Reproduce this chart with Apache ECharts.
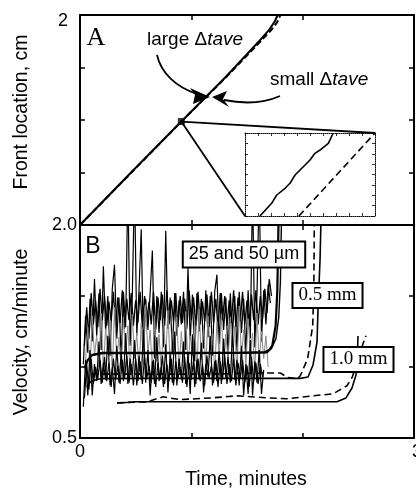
<!DOCTYPE html>
<html><head><meta charset="utf-8">
<script src="https://cdn.jsdelivr.net/npm/echarts@6/dist/echarts.min.js"></script>
<style>html,body{margin:0;padding:0;background:#fff}#c{width:416px;height:488px}</style>
</head><body><div id="c"></div>
<script>
// ---------- Panel A: front location (cm) vs time (min) ----------
const frontSolid  = [[0,0],[0.45,0.49],[0.91,0.985],[1.3,1.40],[1.6,1.74],[1.70,1.86],[1.75,1.94],[1.775,2.0]];
const frontDashed = [[0,0],[0.91,0.985],[1.3,1.395],[1.6,1.725],[1.72,1.86],[1.77,1.93],[1.80,2.0]];
const zoomPoint = [[0.91,0.985]];
const zoomConnector = [[1.482,0.086],[0.91,0.985],[2.65,0.876]];
// inset (normalised 0..1 coordinates)
const insetSolid = [[0.115,0],[0.205,0.153],[0.244,0.253],[0.308,0.334],[0.346,0.394],[0.385,0.494],[0.462,0.614],[0.5,0.675],[0.538,0.755],[0.577,0.795],[0.641,0.876],[0.679,1.0]];
const insetDashed = [[0.415,0],[1.0,1.0]];

// ---------- Panel B: velocity (cm/min) vs time (min) ----------
const NOISE_DT = 0.02;   // sampling interval of the measured traces
const upperT0 = 0.03, upper2T0 = 0.04, greyT0 = 0.05, lowerT0 = 0.03, lower2T0 = 0.04;
const noiseUpper = [
 1.02,1.36,1.10,1.48,1.18,1.62,1.22,1.52,1.12,1.71,
 1.25,1.50,1.08,1.55,1.72,1.20,1.49,1.05,1.53,1.28,
 2.30,1.15,1.51,2.30,1.22,1.54,1.97,1.10,1.48,1.26,
 1.52,1.82,1.06,1.50,1.24,1.53,1.14,1.96,1.27,1.49,
 1.09,1.52,1.22,1.47,1.30,1.53,1.12,1.70,1.19,1.51,
 1.04,1.52,1.25,1.48,1.13,1.54,1.21,1.50,1.08,1.53,
 1.65,1.16,1.52,1.26,1.49,1.07,1.52,1.23,1.50,1.11,
 1.53,1.24,1.48,1.09,1.54,1.20,2.30,1.14,1.52,2.30,
 1.18,1.54,1.30,1.58,1.45];
const noiseUpper2 = [
 1.15,1.42,1.20,1.52,1.30,1.47,1.28,1.55,1.33,1.50,
 1.29,1.46,1.32,1.53,1.28,1.49,1.31,1.54,1.27,1.48,
 1.33,1.52,1.29,1.47,1.31,1.53,1.28,1.50,1.32,1.46,
 1.30,1.53,1.27,1.49,1.33,1.51,1.29,1.54,1.30,1.47,
 1.32,1.52,1.28,1.50,1.31,1.48,1.27,1.54,1.33,1.49,
 1.29,1.53,1.30,1.46,1.32,1.51,1.28,1.53,1.31,1.48,
 1.27,1.52,1.33,1.50,1.29,1.47,1.31,1.54,1.28,1.49,
 1.32,1.53,1.30,1.47,1.29,1.51,1.33,1.54,1.30,1.50,
 1.34,1.55,1.38,1.62,1.50];
const noiseGrey = [
 1.05,1.28,0.97,1.36,1.08,1.22,1.00,1.38,0.98,1.27,
 1.12,1.33,0.96,1.42,1.05,1.21,0.99,1.35,1.10,1.29,
 0.95,1.37,1.06,1.24,0.97,1.31,1.02,1.44,1.09,1.26,
 0.98,1.36,1.04,1.23,0.96,1.34,1.07,1.40,1.00,1.27,
 1.11,1.35,0.97,1.25,1.03,1.39,0.99,1.22,1.08,1.33,
 0.96,1.41,1.05,1.28,1.00,1.36,1.09,1.24,0.97,1.32,
 1.06,1.37,0.98,1.23,1.04,1.35,1.01,1.29,0.95,1.43,
 1.07,1.26,1.00,1.34,1.10,1.24,0.97,1.38,1.03,1.25,
 1.06,1.22,1.00];
const noiseLower = [
 0.72,1.05,0.80,1.12,0.80,1.02,0.90,1.18,0.88,1.03,
 0.91,1.22,0.87,1.00,0.81,1.15,0.89,1.10,0.90,1.24,
 0.88,1.06,0.93,1.19,0.87,1.08,0.91,1.26,0.89,1.12,
 0.80,1.04,0.88,1.21,0.90,1.00,0.86,1.16,0.82,1.09,
 0.89,1.25,0.87,1.06,0.92,1.18,0.88,1.10,0.81,1.23,
 0.86,1.05,0.91,1.17,0.82,1.02,0.93,1.22,0.87,1.04,
 0.90,1.11,0.88,1.20,0.92,1.07,0.89,1.25,0.91,1.05,
 0.87,1.15,0.80,1.02,0.81,1.19,0.80,1.04,0.89,1.12,
 0.81,0.98];
const noiseLower2 = [
 0.78,1.02,0.84,1.06,0.88,1.00,0.92,1.05,0.89,1.07,
 0.90,1.03,0.86,1.06,0.91,1.01,0.88,1.05,0.92,1.08,
 0.89,1.02,0.87,1.06,0.90,1.04,0.88,1.07,0.92,1.01,
 0.89,1.05,0.86,1.03,0.91,1.08,0.88,1.02,0.90,1.06,
 0.87,1.04,0.92,1.00,0.89,1.07,0.86,1.03,0.91,1.05,
 0.88,1.06,0.90,1.02,0.87,1.08,0.92,1.01,0.89,1.05,
 0.86,1.04,0.91,1.07,0.88,1.02,0.90,1.06,0.87,1.03,
 0.92,1.05,0.89,1.01,0.86,1.07,0.90,1.03,0.88,1.02,
 0.93];
const fit25Solid  = [[0.04,0.99],[0.07,1.05],[0.11,1.085],[0.2,1.10],[0.6,1.10],[1.0,1.10],[1.4,1.10],[1.66,1.105],[1.70,1.12],[1.727,1.15],[1.757,1.29],[1.772,1.53],[1.784,2.05]];
const fit50Solid  = [[0.1,1.08],[0.2,1.095],[1.0,1.095],[1.68,1.10],[1.72,1.13],[1.76,1.2],[1.785,1.35],[1.80,1.6],[1.81,2.05]];
const fit05Solid  = [[0.06,0.86],[0.1,0.90],[0.18,0.918],[0.6,0.92],[1.2,0.92],[1.8,0.92],[1.98,0.92],[2.048,0.93],[2.093,1.014],[2.129,1.176],[2.138,1.415],[2.156,1.754],[2.165,2.05]];
const fit05Dashed = [[0.1,0.95],[0.6,0.95],[1.2,0.95],[1.68,0.958],[1.80,0.958],[1.865,0.925],[1.955,0.918],[1.98,0.94],[2.045,1.06],[2.09,1.29],[2.10,1.53],[2.105,2.05]];
const fit10Solid  = [[0.333,0.745],[0.5,0.755],[1.0,0.755],[1.5,0.755],[2.0,0.755],[2.308,0.755],[2.389,0.782],[2.443,0.852],[2.479,0.944],[2.493,1.12],[2.497,1.218]];
const fit10Dashed = [[0.332,0.748],[0.602,0.755],[0.746,0.79],[0.898,0.77],[1.195,0.783],[1.41,0.797],[1.68,0.783],[1.86,0.776],[2.093,0.797],[2.272,0.811],[2.398,0.868],[2.443,0.925],[2.50,1.05],[2.54,1.16],[2.569,1.22]];

// tick labels
const yTickA = {2:'2'};
const yTickB = {0.5:'0.5', 2:'2.0'};
const xTickB = {0:'0'};
const xTickBEnd = '3';

const SANS = 'Liberation Sans, Arial, Helvetica, sans-serif';
const SERIF = 'Liberation Serif, Times New Roman, serif';
const toPairs = (vals, t0) => vals.map((v,i)=>[t0 + i*NOISE_DT, v]);

const chart = echarts.init(document.getElementById('c'), null, {renderer:'canvas'});

function ax(grid, position, min, max, interval, extra){
  const a = {
    type:'value', gridIndex:grid, position, min, max, interval,
    axisLine:{show:true, onZero:false, lineStyle:{color:'#000', width:2}},
    axisTick:{show:true, inside:true, length:5, lineStyle:{color:'#000', width:1.5}},
    axisLabel:{show:false},
    splitLine:{show:false}
  };
  return Object.assign(a, extra||{});
}
const insetAxisLine = {show:true, onZero:false, lineStyle:{color:'#000', width:1, type:'dotted'}};
const insetTick = {show:true, inside:true, length:3, lineStyle:{color:'#000', width:0.8}};

const line = (data, xi, yi, w, dash, color, z) => ({
  type:'line', data, xAxisIndex:xi, yAxisIndex:yi, showSymbol:false, symbol:'none',
  lineStyle:{color:color||'#000', width:w, type:dash||'solid'}, z:z||2, silent:true, animation:false
});

chart.setOption({
  animation:false,
  grid:[
    {left:80, top:15, width:334, height:210, outerBoundsMode:'none', containLabel:false},
    {left:80, top:225, width:334, height:213, outerBoundsMode:'none', containLabel:false},
    {left:245, top:133, width:130, height:83, outerBoundsMode:'none', containLabel:false}
  ],
  xAxis:[
    ax(0,'bottom',0,3,1),
    ax(0,'top',0,3,1),
    ax(1,'bottom',0,3,1,{axisLabel:{show:true, margin:5, fontSize:18, fontFamily:SANS, color:'#000',
      formatter:v=>xTickB[v]||''}}),
    ax(1,'top',0,3,1),
    {type:'value', gridIndex:2, position:'bottom', min:0, max:1, interval:0.1, axisLine:insetAxisLine, axisTick:insetTick, axisLabel:{show:false}, splitLine:{show:false}},
    {type:'value', gridIndex:2, position:'top', min:0, max:1, interval:0.1, axisLine:insetAxisLine, axisTick:insetTick, axisLabel:{show:false}, splitLine:{show:false}}
  ],
  yAxis:[
    ax(0,'left',0,2,0.5,{axisLabel:{show:true, margin:12, fontSize:18, fontFamily:SANS, color:'#000', verticalAlign:'top', lineHeight:12,
      formatter:v=>yTickA[v]||''}}),
    ax(0,'right',0,2,0.5),
    ax(1,'left',0.5,2,0.5,{axisLabel:{show:true, margin:3, fontSize:18, fontFamily:SANS, color:'#000',
      formatter:v=>yTickB[v]||''}}),
    ax(1,'right',0.5,2,0.5),
    {type:'value', gridIndex:2, position:'left', min:0, max:1, interval:0.125, axisLine:insetAxisLine, axisTick:insetTick, axisLabel:{show:false}, splitLine:{show:false}},
    {type:'value', gridIndex:2, position:'right', min:0, max:1, interval:0.125, axisLine:insetAxisLine, axisTick:insetTick, axisLabel:{show:false}, splitLine:{show:false}}
  ],
  series:[
    line(zoomConnector,0,0,1.8),
    line(frontDashed,0,0,2,[6,3]),
    line(frontSolid,0,0,2),
    {type:'scatter', data:zoomPoint, xAxisIndex:0, yAxisIndex:0, symbol:'rect', symbolSize:7, itemStyle:{color:'#000'}, z:5, silent:true},
    line(insetDashed,4,4,1.6,[7,4]),
    line(insetSolid,4,4,1.6),
    line(toPairs(noiseUpper,upperT0),2,2,1.2,'solid','#000',2),
    line(toPairs(noiseUpper2,upper2T0),2,2,1.3,'solid','#000',2),
    line(toPairs(noiseGrey,greyT0),2,2,1,'solid','#8a8a8a',3),
    line(toPairs(noiseLower,lowerT0),2,2,1.2,'solid','#000',3),
    line(toPairs(noiseLower2,lower2T0),2,2,1.2,'solid','#000',3),
    line(fit05Dashed,2,2,1.6,[7,4],'#000',4),
    line(fit05Solid,2,2,1.6,'solid','#000',4),
    line(fit10Dashed,2,2,1.6,[7,4],'#000',4),
    line(fit10Solid,2,2,1.6,'solid','#000',4),
    line(fit50Solid,2,2,1.4,'solid','#000',4),
    line(fit25Solid,2,2,2.2,'solid','#000',5)
  ],
  graphic:[
    {type:'text', x:22, y:112, rotation:Math.PI/2, z:100, style:{text:'Front location, cm', font:'19.5px '+SANS, fill:'#000', align:'center', verticalAlign:'middle'}},
    {type:'text', x:22, y:332, rotation:Math.PI/2, z:100, style:{text:'Velocity, cm/minute', font:'19.5px '+SANS, fill:'#000', align:'center', verticalAlign:'middle'}},
    {type:'text', x:246, y:480, z:100, style:{text:'Time, minutes', font:'19.5px '+SANS, fill:'#000', align:'center', verticalAlign:'middle'}},
    {type:'text', x:412, y:443, z:100, style:{text:xTickBEnd, font:'18px '+SANS, fill:'#000', align:'left', verticalAlign:'top'}},
    {type:'text', x:96, y:38, z:100, style:{text:'A', font:'26px '+SERIF, fill:'#000', align:'center', verticalAlign:'middle'}},
    {type:'text', x:93, y:247, z:100, style:{text:'B', font:'23px '+SANS, fill:'#000', align:'center', verticalAlign:'middle'}},
    {type:'text', x:147, y:40, z:100, style:{text:'{n|large Δ}{i|tave}', align:'left', verticalAlign:'middle',
      rich:{n:{fontSize:19, fontFamily:SANS, fill:'#000'}, i:{fontSize:19, fontFamily:SANS, fontStyle:'italic', fill:'#000'}}}},
    {type:'text', x:270, y:80, z:100, style:{text:'{n|small Δ}{i|tave}', align:'left', verticalAlign:'middle',
      rich:{n:{fontSize:19, fontFamily:SANS, fill:'#000'}, i:{fontSize:19, fontFamily:SANS, fontStyle:'italic', fill:'#000'}}}},
    {type:'bezierCurve', z:100, shape:{x1:157,y1:55,cpx1:161,cpy1:73,cpx2:176,cpy2:87,x2:197,y2:94}, style:{stroke:'#000', lineWidth:1.8, fill:null}},
    {type:'polygon', z:100, shape:{points:[[210,97],[190,88],[195,95],[193,104]]}, style:{fill:'#000'}},
    {type:'bezierCurve', z:100, shape:{x1:280,y1:96,cpx1:262,cpy1:104,cpx2:244,cpy2:104,x2:224,y2:100}, style:{stroke:'#000', lineWidth:1.8, fill:null}},
    {type:'polygon', z:100, shape:{points:[[212,97],[227,91],[223,99],[229,107]]}, style:{fill:'#000'}},
    {type:'text', x:244, y:254.5, z:100, style:{text:'25 and 50 µm', font:'18px '+SANS, fill:'#000', align:'center', verticalAlign:'middle',
      backgroundColor:'#fff', borderColor:'#000', borderWidth:2, padding:[3,5,3,5]}},
    {type:'text', x:327.5, y:295.5, z:100, style:{text:'0.5 mm', font:'19px '+SERIF, fill:'#000', align:'center', verticalAlign:'middle',
      backgroundColor:'#fff', borderColor:'#000', borderWidth:2, padding:[2,5,2,5]}},
    {type:'text', x:358.5, y:359.5, z:100, style:{text:'1.0 mm', font:'19px '+SERIF, fill:'#000', align:'center', verticalAlign:'middle',
      backgroundColor:'#fff', borderColor:'#000', borderWidth:2, padding:[2,5,2,5]}}
  ]
});
</script></body></html>
